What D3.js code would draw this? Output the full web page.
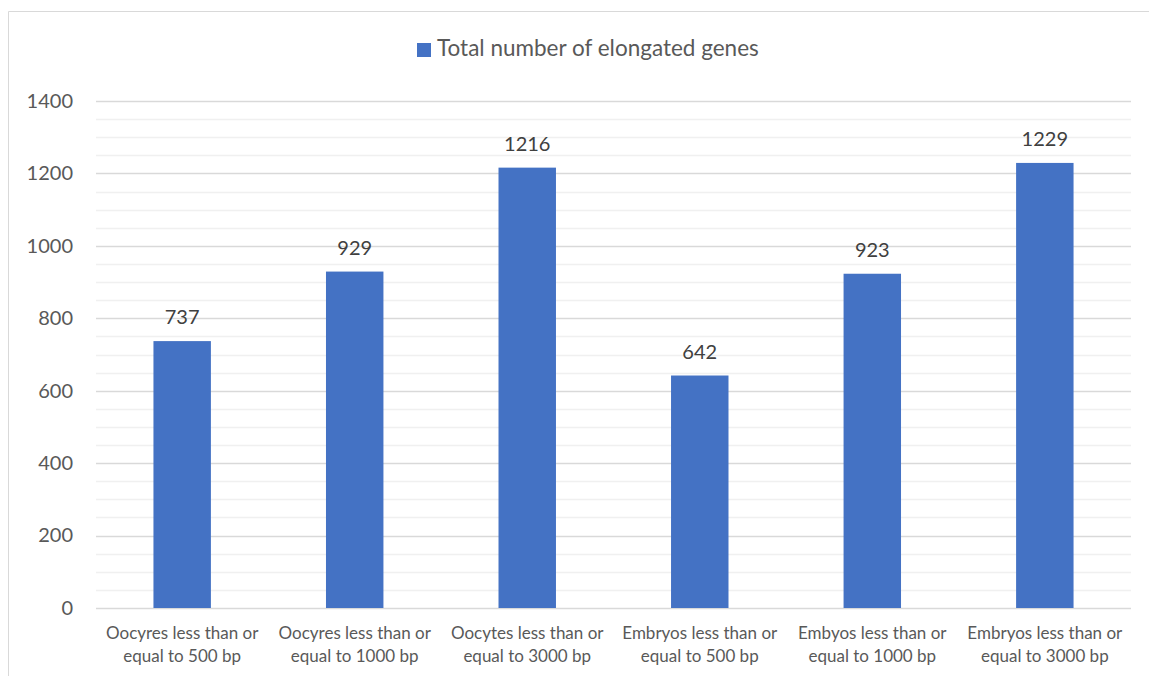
<!DOCTYPE html>
<html lang="en">
  <head>
    <meta charset="UTF-8" />
    <title>Total number of elongated genes</title>
    <style>
      body { margin: 0; background: #fff; }
      .chart { width: 1149px; height: 676px; }
      text { font-family: Lato, "Open Sans", "Noto Sans", sans-serif; }
    </style>
  </head>
  <body>
    <div class="chart"></div>
    <script src="https://d3js.org/d3.v7.min.js"></script>
    <script>
      // data
      const categories = [
        ["Oocyres less than or", "equal to 500 bp"],
        ["Oocyres less than or", "equal to 1000 bp"],
        ["Oocytes less than or", "equal to 3000 bp"],
        ["Embryos less than or", "equal to 500 bp"],
        ["Embyos less than or", "equal to 1000 bp"],
        ["Embryos less than or", "equal to 3000 bp"],
      ];
      const values = [737, 929, 1216, 642, 923, 1229];
      const yTicks = [0, 200, 400, 600, 800, 1000, 1200, 1400];
      const seriesName = "Total number of elongated genes";

      const drawChart = () => {
        const svgWidth = 1149,
          svgHeight = 676;
        const margin = { top: 101, right: 18, bottom: 68, left: 96 };
        const width = svgWidth - margin.left - margin.right,
          height = svgHeight - margin.top - margin.bottom;

        const svg = d3
          .select(".chart")
          .append("svg")
          .attr("width", svgWidth)
          .attr("height", svgHeight);

        // 外框
        svg
          .append("path")
          .attr("d", `M8.5,${svgHeight} V11.5 H${svgWidth}`)
          .attr("fill", "none")
          .attr("stroke", "#d9d9d9")
          .attr("stroke-width", 1);

        const g = svg
          .append("g")
          .attr("transform", `translate(${margin.left}, ${margin.top})`);

        const idx = categories.map((d, i) => i);
        const xScale = d3
          .scaleBand()
          .domain(idx)
          .range([0, width])
          .paddingInner(0.667)
          .paddingOuter(0.333);

        const yScale = d3.scaleLinear().domain([0, 1400]).range([height, 0]);

        // minor gridlines
        g.append("g")
          .selectAll("line")
          .data(d3.range(50, 1400, 50).filter((v) => v % 200 !== 0))
          .join("line")
          .attr("x1", 0)
          .attr("x2", width)
          .attr("y1", (d) => Math.round(yScale(d)) + 0.5)
          .attr("y2", (d) => Math.round(yScale(d)) + 0.5)
          .attr("stroke", "#f0f0f0")
          .attr("stroke-width", 1.3);

        // major gridlines
        g.append("g")
          .selectAll("line")
          .data(yTicks)
          .join("line")
          .attr("x1", 0)
          .attr("x2", width)
          .attr("y1", (d) => Math.round(yScale(d)) + 0.5)
          .attr("y2", (d) => Math.round(yScale(d)) + 0.5)
          .attr("stroke", "#d9d9d9")
          .attr("stroke-width", 1.3);

        // y axis
        const yAxis = g
          .append("g")
          .call(
            d3
              .axisLeft(yScale)
              .tickValues(yTicks)
              .tickFormat(d3.format("d"))
              .tickSize(0)
              .tickPadding(23)
          );
        yAxis.select(".domain").remove();
        yAxis
          .selectAll("text")
          .attr("fill", "#595959")
          .style("font-size", "20px");

        // bars
        g.append("g")
          .selectAll("rect")
          .data(values)
          .join("rect")
          .attr("x", (d, i) => xScale(i))
          .attr("y", (d) => yScale(d))
          .attr("width", xScale.bandwidth())
          .attr("height", (d) => height - yScale(d))
          .attr("fill", "#4472c4");

        // value labels
        g.append("g")
          .selectAll("text")
          .data(values)
          .join("text")
          .attr("x", (d, i) => xScale(i) + xScale.bandwidth() / 2)
          .attr("y", (d) => yScale(d) - 17)
          .attr("text-anchor", "middle")
          .attr("fill", "#404040")
          .style("font-size", "20px")
          .text((d) => d);

        // category labels
        const catText = g
          .append("g")
          .selectAll("text")
          .data(categories)
          .join("text")
          .attr("x", (d, i) => xScale(i) + xScale.bandwidth() / 2)
          .attr("y", height + 31)
          .attr("text-anchor", "middle")
          .attr("fill", "#595959")
          .style("font-size", "17px");
        catText
          .selectAll("tspan")
          .data((d) => d)
          .join("tspan")
          .attr("x", function () {
            return this.parentNode.getAttribute("x");
          })
          .attr("dy", (d, i) => (i === 0 ? 0 : 23))
          .text((d) => d);

        // legend
        const legend = svg.append("g");
        legend
          .append("rect")
          .attr("x", 417)
          .attr("y", 43)
          .attr("width", 14)
          .attr("height", 14)
          .attr("fill", "#4472c4");
        legend
          .append("text")
          .attr("x", 437)
          .attr("y", 56)
          .attr("fill", "#595959")
          .style("font-size", "22.5px")
          .text(seriesName);
      };

      drawChart();
    </script>
  </body>
</html>
